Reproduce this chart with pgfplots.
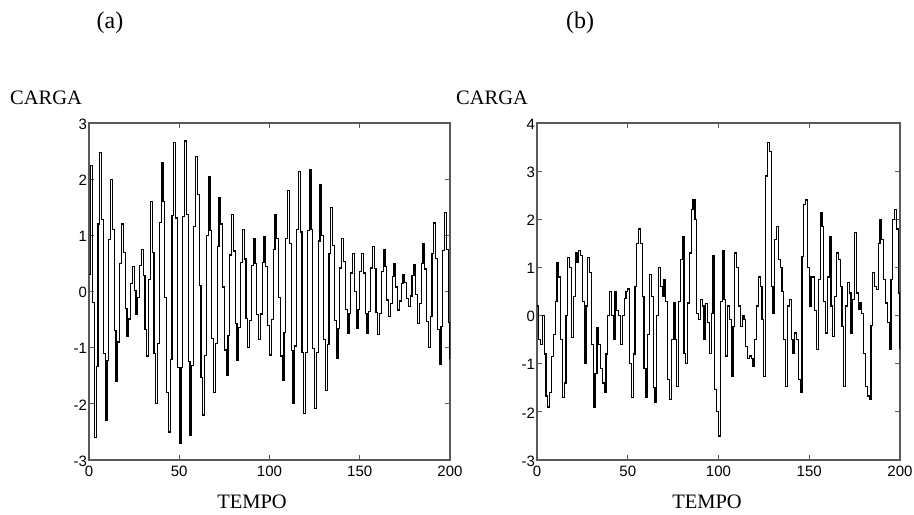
\documentclass[border=0pt]{standalone}
\usepackage{fontspec}
\setmainfont{Liberation Serif}
\newfontfamily\arialf{Liberation Sans}
\usepackage{pgfplots}
\pgfplotsset{compat=1.18}

\pgfplotsset{
  mlab/.style={
    scale only axis, height=337bp,
    xmin=0, xmax=200, xtick={0,50,100,150,200},
    tick align=inside, tick pos=both,
    major tick length=5bp,
    axis line style={line width=1.2bp, black!65},
    every tick/.style={black!65, line width=0.8bp},
    tick label style={font=\arialf\fontsize{15bp}{17bp}\selectfont},
    /pgf/number format/assume math mode=true,
    xticklabel style={yshift=-3bp},
    yticklabel style={xshift=1.5bp, yshift=-1bp},
    clip=true,
  },
  trace/.style={black, line width=1.2bp, const plot, no marks},
}

\begin{document}
\begin{tikzpicture}
\path[use as bounding box] (0,0) rectangle (914bp,515bp);

% (a)
\begin{axis}[mlab, at={(89bp,55bp)}, anchor=south west, width=361bp,
  ymin=-3, ymax=3, ytick={-3,-2,...,3}]
\addplot[trace] coordinates {
(0,0.3) (1,2.25) (2,-0.2) (3,-2.6) (4,-1.34) (5,1.2) (6,2.47) (7,1.28) (8,-1.11) (9,-2.3)
(10,-1.23) (11,0.93) (12,2.0) (13,1.1) (14,-0.7) (15,-1.6) (16,-0.9) (17,0.5) (18,1.2) (19,0.7)
(20,-0.3) (21,-0.8) (22,-0.49) (23,0.14) (24,0.45) (25,0.02) (26,-0.4) (27,-0.11) (28,0.46) (29,0.75)
(30,0.28) (31,-0.68) (32,-1.15) (33,0.22) (34,1.6) (35,0.7) (36,-1.1) (37,-2.0) (38,-0.93) (39,1.23)
(40,2.3) (41,1.6) (42,-0.1) (43,-1.8) (44,-2.5) (45,-1.21) (46,1.36) (47,2.65) (48,1.31) (49,-1.36)
(50,-2.7) (51,-1.35) (52,1.34) (53,2.68) (54,1.37) (55,-1.25) (56,-2.56) (57,-1.32) (58,1.16) (59,2.4)
(60,1.73) (61,0.1) (62,-1.53) (63,-2.2) (64,-1.14) (65,0.99) (66,2.05) (67,1.09) (68,-0.84) (69,-1.8)
(70,-0.93) (71,0.8) (72,1.67) (73,1.2) (74,0.08) (75,-1.04) (76,-1.5) (77,-0.78) (78,0.65) (79,1.37)
(80,0.72) (81,-0.57) (82,-1.22) (83,-0.64) (84,0.52) (85,1.1) (86,0.58) (87,-0.48) (88,-1.0) (89,-0.51)
(90,0.46) (91,0.95) (92,0.5) (93,-0.41) (94,-0.86) (95,-0.4) (96,0.52) (97,0.98) (98,0.45) (99,-0.6)
(100,-1.13) (101,-0.5) (102,0.75) (103,1.37) (104,0.94) (105,-0.1) (106,-1.15) (107,-1.58) (108,-0.73) (109,0.95)
(110,1.8) (111,0.85) (112,-1.05) (113,-2.0) (114,-0.97) (115,1.1) (116,2.14) (117,1.06) (118,-1.09) (119,-2.17)
(120,-1.09) (121,1.09) (122,2.17) (123,1.1) (124,-1.02) (125,-2.08) (126,-1.09) (127,0.9) (128,1.9) (129,0.99)
(130,-0.85) (131,-1.76) (132,-0.95) (133,0.68) (134,1.49) (135,0.82) (136,-0.52) (137,-1.19) (138,-0.66) (139,0.42)
(140,0.95) (141,0.53) (142,-0.32) (143,-0.74) (144,-0.39) (145,0.33) (146,0.68) (147,0.0) (148,-0.65) (149,-0.32)
(150,0.35) (151,0.68) (152,0.33) (153,-0.39) (154,-0.74) (155,-0.36) (156,0.42) (157,0.8) (158,0.41) (159,-0.38)
(160,-0.77) (161,-0.39) (162,0.36) (163,0.74) (164,0.44) (165,-0.15) (166,-0.45) (167,-0.21) (168,0.26) (169,0.5)
(170,0.08) (171,-0.33) (172,-0.17) (173,0.14) (174,0.3) (175,0.16) (176,-0.13) (177,-0.27) (178,-0.08) (179,0.29)
(180,0.48) (181,-0.05) (182,-0.57) (183,-0.21) (184,0.5) (185,0.86) (186,0.4) (187,-0.54) (188,-1.0) (189,-0.45)
(190,0.67) (191,1.22) (192,0.59) (193,-0.67) (194,-1.3) (195,-0.63) (196,0.73) (197,1.4) (198,0.75) (199,-0.55)
(200,-1.2)
};
\end{axis}

% (b)
\begin{axis}[mlab, at={(537bp,55bp)}, anchor=south west, width=363bp,
  ymin=-3, ymax=4, ytick={-3,-2,...,4}]
\addplot[trace] coordinates {
(0,0.2) (1,-0.5) (2,-0.6) (3,0.0) (4,-0.8) (5,-1.67) (6,-1.9) (7,-1.6) (8,-0.85) (9,-0.4)
(10,0.3) (11,1.1) (12,0.8) (13,-0.5) (14,-1.7) (15,-1.4) (16,0.0) (17,1.2) (18,1.0) (19,-0.45)
(20,0.4) (21,1.3) (22,1.1) (23,1.35) (24,1.25) (25,0.3) (26,-1.0) (27,0.2) (28,1.2) (29,0.9)
(30,-0.6) (31,-1.9) (32,-1.2) (33,-0.25) (34,-0.6) (35,-1.1) (36,-1.4) (37,-1.6) (38,-0.8) (39,0.0)
(40,0.5) (41,0.0) (42,-0.5) (43,0.5) (44,0.1) (45,0.0) (46,-0.6) (47,0.0) (48,0.35) (49,0.5)
(50,0.55) (51,-1.0) (52,-1.7) (53,-0.8) (54,0.6) (55,1.5) (56,1.8) (57,1.5) (58,0.4) (59,-1.1)
(60,-1.7) (61,-0.4) (62,0.85) (63,0.4) (64,-1.5) (65,-1.8) (66,0.0) (67,1.0) (68,0.6) (69,0.4)
(70,0.75) (71,0.3) (72,-1.33) (73,-1.75) (74,-0.5) (75,0.26) (76,-0.5) (77,-1.47) (78,0.3) (79,1.16)
(80,1.65) (81,-0.78) (82,-1.0) (83,0.26) (84,1.3) (85,2.2) (86,2.4) (87,2.0) (88,0.05) (89,-0.08)
(90,0.33) (91,0.2) (92,-0.5) (93,0.25) (94,-0.15) (95,-0.78) (96,0.05) (97,1.25) (98,-1.54) (99,-2.0)
(100,-2.5) (101,0.3) (102,1.35) (103,0.33) (104,-0.84) (105,0.2) (106,-0.08) (107,-1.26) (108,-0.22) (109,1.3)
(110,1.0) (111,0.2) (112,-0.22) (113,0.0) (114,-0.08) (115,-0.64) (116,-0.9) (117,-0.84) (118,-0.9) (119,-1.05)
(120,-0.5) (121,0.2) (122,0.8) (123,0.6) (124,-0.08) (125,-1.26) (126,2.9) (127,3.6) (128,3.4) (129,0.6)
(130,0.05) (131,1.58) (132,1.85) (133,1.16) (134,1.0) (135,0.5) (136,-0.5) (137,-1.47) (138,0.2) (139,0.33)
(140,-0.5) (141,-0.78) (142,-0.36) (143,-0.5) (144,-1.33) (145,-1.6) (146,1.23) (147,2.3) (148,2.4) (149,1.0)
(150,0.2) (151,0.8) (152,0.8) (153,0.1) (154,-0.7) (155,0.75) (156,2.13) (157,1.85) (158,0.3) (159,-0.36)
(160,0.8) (161,1.65) (162,0.2) (163,-0.43) (164,0.4) (165,1.3) (166,1.16) (167,0.6) (168,-0.22) (169,-1.47)
(170,0.2) (171,0.68) (172,0.47) (173,-0.36) (174,0.33) (175,1.72) (176,0.47) (177,0.12) (178,0.26) (179,0.05)
(180,-0.78) (181,-1.47) (182,-1.67) (183,-1.75) (184,-0.2) (185,0.9) (186,0.6) (187,0.54) (188,1.5) (189,2.0)
(190,1.58) (191,0.75) (192,0.26) (193,-0.15) (194,-0.7) (195,0.75) (196,2.0) (197,2.2) (198,1.8) (199,0.47)
(200,-0.7)
};
\end{axis}

\node[font=\fontsize{24bp}{28bp}\selectfont] at (110bp,492bp) {(a)};
\node[font=\fontsize{24bp}{28bp}\selectfont] at (580bp,492bp) {(b)};
\node[font=\fontsize{20.5bp}{24bp}\selectfont] at (46bp,417bp) {CARGA};
\node[font=\fontsize{20.5bp}{24bp}\selectfont] at (492bp,417bp) {CARGA};
\node[font=\fontsize{20.5bp}{24bp}\selectfont] at (252bp,13bp) {TEMPO};
\node[font=\fontsize{20.5bp}{24bp}\selectfont] at (707bp,13bp) {TEMPO};
\end{tikzpicture}
\end{document}
